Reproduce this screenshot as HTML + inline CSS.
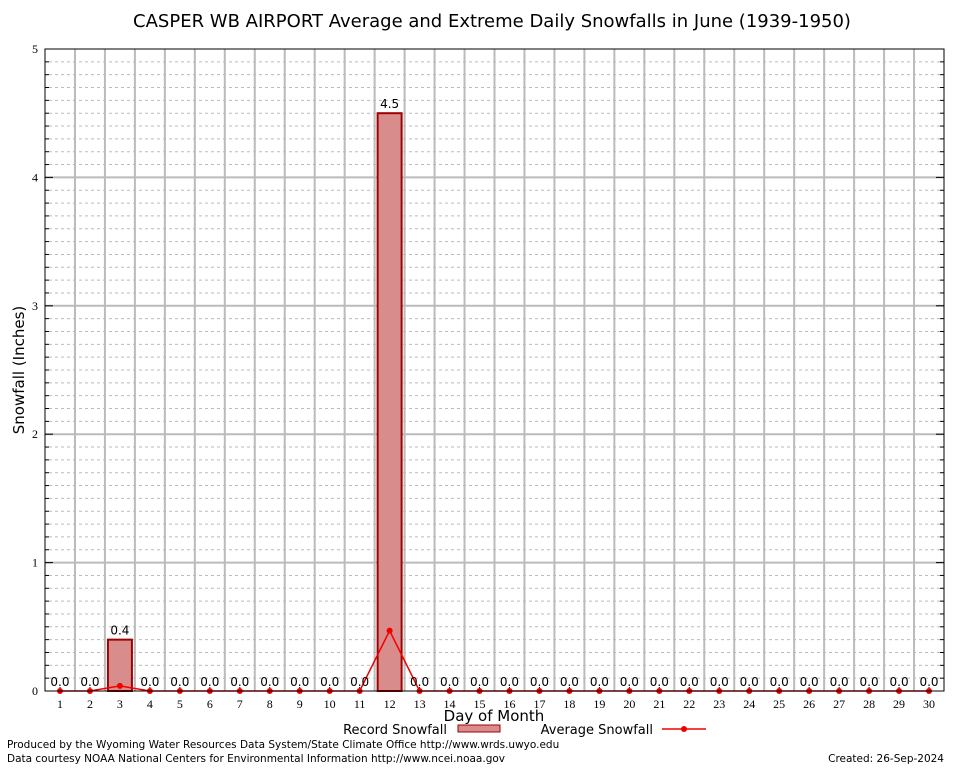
<!DOCTYPE html>
<html><head><meta charset="utf-8"><style>
body{margin:0;background:#fff;}
svg{display:block;font-family:"DejaVu Sans","Liberation Sans",sans-serif;}
</style></head><body>
<svg id="chart" width="954" height="768">
<text x="492" y="27" font-size="18" text-anchor="middle">CASPER WB AIRPORT Average and Extreme Daily Snowfalls in June (1939-1950)</text>
<g id="grid"></g>
<g id="bars"></g>
<g id="avg"></g>
<g id="labels"></g>
<rect x="45" y="49" width="899" height="642" fill="none" stroke="#000" stroke-width="1"/>
<text transform="translate(24,370) rotate(-90)" font-size="15" text-anchor="middle">Snowfall (Inches)</text>
<text x="494" y="721" font-size="15" text-anchor="middle">Day of Month</text>
<g>
<text x="447" y="734" font-size="13" text-anchor="end">Record Snowfall</text>
<rect x="458" y="725" width="42" height="7" fill="#d98c8c" stroke="#a00000"/>
<text x="653" y="734" font-size="13" text-anchor="end">Average Snowfall</text>
<line x1="662" y1="729" x2="706" y2="729" stroke="#f00000" stroke-width="1.5"/>
<circle cx="684" cy="729" r="3" fill="#f00000"/>
</g>
<text x="7" y="748" font-size="10.5">Produced by the Wyoming Water Resources Data System/State Climate Office http://www.wrds.uwyo.edu</text>
<text x="7" y="762" font-size="10.5">Data courtesy NOAA National Centers for Environmental Information http://www.ncei.noaa.gov</text>
<text x="944" y="762" font-size="10.5" text-anchor="end">Created:  26-Sep-2024</text>
</svg>
<script>
const days=[1,2,3,4,5,6,7,8,9,10,11,12,13,14,15,16,17,18,19,20,21,22,23,24,25,26,27,28,29,30];
const recordVals=[0,0,0.4,0,0,0,0,0,0,0,0,4.5,0,0,0,0,0,0,0,0,0,0,0,0,0,0,0,0,0,0];
const avgVals=[0,0,0.04,0,0,0,0,0,0,0,0,0.47,0,0,0,0,0,0,0,0,0,0,0,0,0,0,0,0,0,0];
const yTicks=[0,1,2,3,4,5];
const NS="http://www.w3.org/2000/svg";
const X0=45,X1=944,Y0=691,Y1=49;
const xs=d=>X0+(d-0.5)*(X1-X0)/30;
const ys=v=>Y0-v*(Y0-Y1)/5;
function mk(tag,attrs,parent){const e=document.createElementNS(NS,tag);for(const k in attrs)e.setAttribute(k,attrs[k]);parent.appendChild(e);return e;}
const grid=document.getElementById('grid'),bars=document.getElementById('bars'),avg=document.getElementById('avg'),labels=document.getElementById('labels');
for(let i=1;i<50;i++){if(i%10===0)continue;const y=ys(i/10);
const l=mk('line',{x1:X0+4,x2:X1-4,y1:y,y2:y,stroke:'#bbb','stroke-dasharray':'3,3','stroke-width':1},grid);


const t1=mk('line',{x1:X0,x2:X0+4,y1:y,y2:y,stroke:'#000'},grid);


const t2=mk('line',{x1:X1-4,x2:X1,y1:y,y2:y,stroke:'#000'},grid);

}
for(let d=1;d<30;d++){const x=xs(d+0.5);
const l=mk('line',{x1:x,x2:x,y1:Y1,y2:Y0,stroke:'#bbb','stroke-width':2},grid);

}
yTicks.forEach(t=>{const y=ys(t);
if(t>0&&t<5){const l=mk('line',{x1:X0,x2:X1,y1:y,y2:y,stroke:'#bbb','stroke-width':2},grid);


const k=mk('line',{x1:X0,x2:X0+8,y1:y,y2:y,stroke:'#000'},grid);


const k2=mk('line',{x1:X1-8,x2:X1,y1:y,y2:y,stroke:'#000'},grid);

}
const tx=mk('text',{x:38,y:y+4,'font-size':12,'text-anchor':'end','font-family':'Liberation Serif, serif'},labels);tx.textContent=t;

});
days.forEach((d,i)=>{const x=xs(d);
const tk=mk('line',{x1:x,x2:x,y1:Y0,y2:Y0-4,stroke:'#000'},grid);


const tx=mk('text',{x:x,y:708,'font-size':12,'text-anchor':'middle','font-family':'Liberation Serif, serif'},labels);tx.textContent=d;


const v=recordVals[i];
if(v>0){const b=mk('rect',{x:x-12,y:ys(v),width:24,height:Y0-ys(v),fill:'#d98c8c',stroke:'#a00000','stroke-width':2},bars);

}
const lb=mk('text',{x:x,y:ys(v)-5,'font-size':12,'text-anchor':'middle'},labels);lb.textContent=v.toFixed(1);

});
const pts=days.map((d,i)=>xs(d)+','+ys(avgVals[i])).join(' ');
const pl=mk('polyline',{points:pts,fill:'none',stroke:'#f00000','stroke-width':1.5},avg);


days.forEach((d,i)=>{const c=mk('circle',{cx:xs(d),cy:ys(avgVals[i]),r:3,fill:'#f00000'},avg);

});
</script>
</body></html>
